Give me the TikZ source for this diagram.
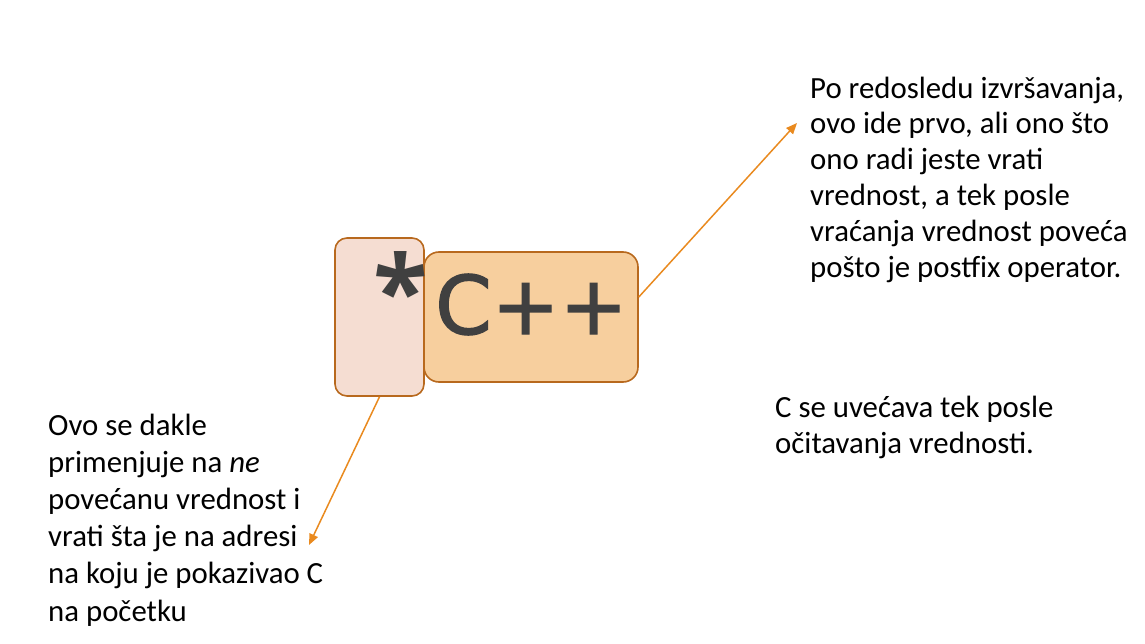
\documentclass[tikz,border=0pt]{standalone}
\usepackage{fontspec}
\setmainfont{Carlito}
\newfontfamily\codefont[FakeBold=1.6]{DejaVu Sans}
\newfontfamily\starfont{Open Sans}
\usetikzlibrary{arrows.meta, positioning}
\definecolor{starfill}{RGB}{245,221,210}
\definecolor{cppfill}{RGB}{247,207,158}
\definecolor{boxline}{RGB}{184,105,30}
\definecolor{arrowcol}{RGB}{233,138,31}
\definecolor{codegray}{RGB}{64,64,64}

\begin{document}
\begin{tikzpicture}[
    x=1pt, y=-1pt,
    box/.style={rectangle, draw=boxline, line width=1.6pt, inner sep=0pt},
    note/.style={anchor=base west, align=left, inner sep=0pt, font=\fontsize{30.8}{35.8}\selectfont},
    code/.style={inner sep=0pt, text=codegray},
    arrow/.style={-{Triangle[length=11pt, width=9pt]}, arrowcol, line width=1.5pt},
]
\useasboundingbox (0,0) rectangle (1145,644);

% === operand boxes ===
\node[box, fill=starfill, rounded corners=12pt, minimum width=89pt, minimum height=158pt] (starbox) at (379.5,317) {};
\node[box, fill=cppfill, rounded corners=15pt, minimum width=214pt, minimum height=130pt] (cppbox) at (531,317) {};

\node[code, anchor=base, font=\starfont\bfseries\fontsize{100}{100}\selectfont] (star) at (401,327) {*};
\node[code, anchor=base west, font=\codefont\fontsize{81}{81}\selectfont] (cpp) at (435,334) {C++};

% === notes (anchored at the baseline of the last line) ===
\node[note] (notetop) at (810,277) {Po redosledu izvršavanja,\\ovo ide prvo, ali ono što\\ono radi jeste vrati\\vrednost, a tek posle\\vraćanja vrednost poveća\\pošto je postfix operator.};
\node[note] (notemid) at (775,453.5) {C se uvećava tek posle\\očitavanja vrednosti.};
\node[note, font=\fontsize{30.8}{37.2}\selectfont] (notebot) at (48,621) {Ovo se dakle\\primenjuje na \textit{ne}\\povećanu vrednost i\\vrati šta je na adresi\\na koju je pokazivao C\\na početku};

% arrow targets
\coordinate (toptip) at (797,123);
\coordinate (bottip) at (309,545);

\draw[arrow] ([yshift=20pt]cppbox.east) -- (toptip);
\draw[arrow] (starbox.south) -- (bottip);

\end{tikzpicture}
\end{document}
